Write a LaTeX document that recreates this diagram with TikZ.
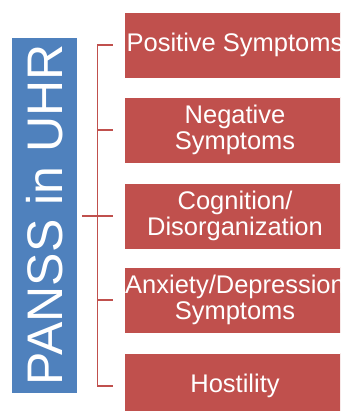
\documentclass[tikz,border=0pt]{standalone}
\usepackage{fontspec}
\setmainfont{Liberation Sans}
\definecolor{boxred}{HTML}{C0504D}
\definecolor{boxblue}{HTML}{4F81BD}
\tikzset{
  itembox/.style={rectangle, fill=boxred, draw=white, line width=0.4pt, minimum width=222pt, minimum height=66pt,
    inner sep=0pt, align=center, text=white, font=\fontsize{25.5}{25.5}\selectfont},
  titlebox/.style={rectangle, fill=boxblue, minimum width=65pt, minimum height=355pt, inner sep=0pt},
  titletext/.style={text=white, font=\fontsize{50}{60}\selectfont, rotate=90, inner sep=0pt},
  bracket/.style={draw=boxred, line width=1.2pt}
}
\begin{document}
\begin{tikzpicture}[x=1pt, y=-1pt]
\path[use as bounding box, clip] (0,0) rectangle (340,411);
\fill[white] (0,0) rectangle (340,411);
\node[titlebox] (title) at (44.5,215.5) {};
\node[titletext] (tt) at (44.5,215) {PANSS in UHR};
\node[itembox] (p1) at (235,45) {Positive Symptoms};
\node[itembox] (p2) at (235,130) {Negative\\Symptoms};
\node[itembox] (p3) at (235,216) {Cognition/\\Disorganization};
\node[itembox] (p4) at (235,300) {Anxiety/Depression\\Symptoms};
\node[itembox] (p5) at (235,386) {Hostility};
\coordinate (spine) at ([xshift=-26pt]p1.west);
\draw[bracket] ([xshift=-11pt]p1.west) -- (spine) |- ([xshift=-11pt]p5.west);
\draw[bracket] ([xshift=-11pt]p2.west) -- (p2.west -| spine);
\draw[bracket] ([xshift=-11pt]p4.west) -- (p4.west -| spine);
\draw[bracket] ([xshift=5pt]p3.west -| title.east) -- ([xshift=-11pt]p3.west);
\end{tikzpicture}
\end{document}
